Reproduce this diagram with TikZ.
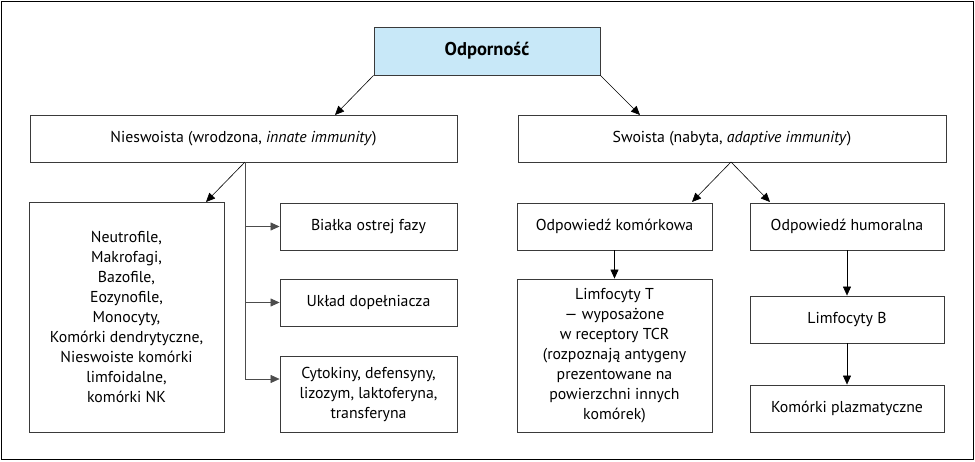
\documentclass[tikz,border=0pt]{standalone}
\usepackage{fontspec}
\setmainfont{PT Sans}
\usetikzlibrary{arrows.meta}
\definecolor{topfill}{HTML}{C8E8F8}
\definecolor{boxline}{HTML}{3A3A3A}
\begin{document}
\begin{tikzpicture}[x=1pt,y=-1pt,
  every node/.style={font=\fontsize{15.8}{20}\selectfont},
  box/.style={draw=boxline,line width=0.9pt,rectangle,inner sep=0pt,align=center},
  arr/.style={line width=0.6pt,-{Triangle[length=9pt,width=8pt]}},
  ln/.style={line width=0.6pt,draw=black!70}]
\useasboundingbox (0,0) rectangle (975,461);
\draw[line width=1pt] (1,1) rectangle (973,459);
% top
\node[box,fill=topfill,minimum width=226pt,minimum height=48pt] (odp) at (487,51) {\fontsize{18.5}{20}\selectfont\textbf{Odporność}};
\node[box,minimum width=427pt,minimum height=47pt] (nies) at (243.5,138.5) {Nieswoista (wrodzona, \textit{innate immunity})};
\node[box,minimum width=428pt,minimum height=47pt] (swo) at (732,138.5) {Swoista (nabyta, \textit{adaptive immunity})};
% left side
\node[box,minimum width=195pt,minimum height=230pt] (cells) at (126.5,317) {Neutrofile,\\Makrofagi,\\Bazofile,\\Eozynofile,\\Monocyty,\\Komórki dendrytyczne,\\Nieswoiste komórki\\limfoidalne,\\komórki NK};
\node[box,minimum width=177pt,minimum height=47pt] (bialka) at (368.5,226.5) {Białka ostrej fazy};
\node[box,minimum width=177pt,minimum height=47pt] (uklad) at (368.5,302.5) {Układ dopełniacza};
\node[box,minimum width=177pt,minimum height=76pt] (cyto) at (368.5,394) {Cytokiny, defensyny,\\lizozym, laktoferyna,\\transferyna};
% right side
\node[box,minimum width=195pt,minimum height=47pt] (kom) at (614.5,226.5) {Odpowiedź komórkowa};
\node[box,minimum width=194pt,minimum height=47pt] (hum) at (847,226.5) {Odpowiedź humoralna};
\node[box,minimum width=195pt,minimum height=153pt] (limT) at (614.5,355.5) {Limfocyty T\\— wyposażone\\w receptory TCR\\(rozpoznają antygeny\\prezentowane na\\powierzchni innych\\komórek)};
\node[box,minimum width=194pt,minimum height=47pt] (limB) at (847,319.5) {Limfocyty B};
\node[box,minimum width=194pt,minimum height=47pt] (plaz) at (847,408.5) {Komórki plazmatyczne};
% coordinates
\coordinate (nL) at (335,115);
\coordinate (sR) at (640,115);
\coordinate (nb) at (245,162);
\coordinate (ne) at (245,379);
\coordinate (cT) at (206,202);
\coordinate (sb) at (731,162);
\coordinate (kT) at (692,202);
\coordinate (hT) at (770,202);
% connectors
\draw[arr] (odp.south west) -- (nL);
\draw[arr] (odp.south east) -- (sR);
\draw[ln] (nb) -- (ne);
\draw[arr] (nb) -- (cT);
\draw[arr,draw=black!70] (nb |- bialka.west) -- (bialka.west);
\draw[arr,draw=black!70] (nb |- uklad.west) -- (uklad.west);
\draw[arr,draw=black!70] (ne) -- (ne -| cyto.west);
\draw[arr] (sb) -- (kT);
\draw[arr] (sb) -- (hT);
\draw[arr] (kom.south) -- (limT.north);
\draw[arr] (hum.south) -- (limB.north);
\draw[arr] (limB.south) -- (plaz.north);
\end{tikzpicture}
\end{document}
